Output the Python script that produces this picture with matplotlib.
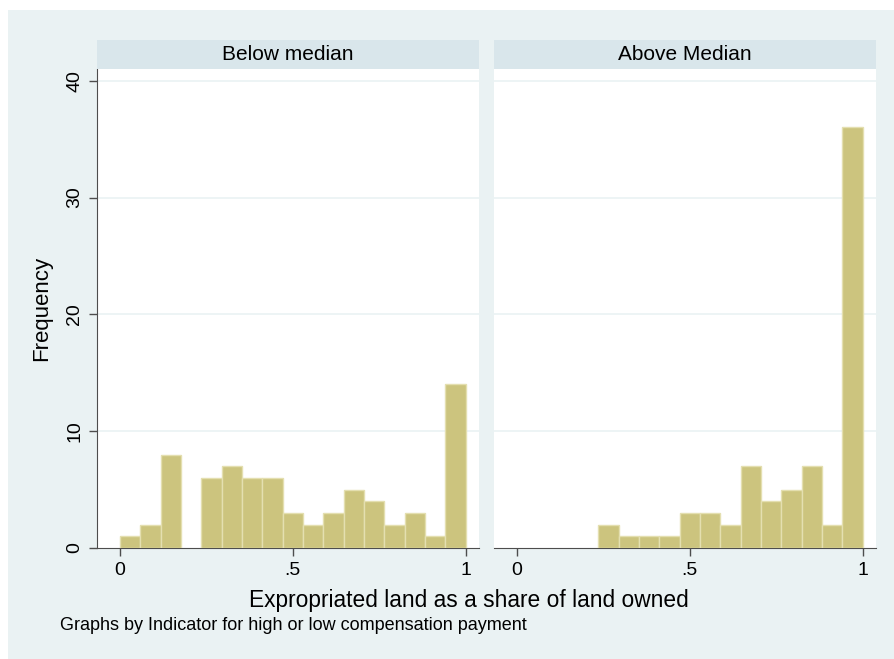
import numpy as np
import matplotlib.pyplot as plt
from matplotlib.patches import Rectangle

# --- DATA ---
n_bins = 17
panel_titles = ["Below median", "Above Median"]
below_counts = [1, 2, 8, 0, 6, 7, 6, 6, 3, 2, 3, 5, 4, 2, 3, 1, 14]
above_counts = [0, 0, 0, 0, 2, 1, 1, 1, 3, 3, 2, 7, 4, 5, 7, 2, 36]
x_ticks = [0, 0.5, 1]
x_ticklabels = ["0", ".5", "1"]
y_ticks = [0, 10, 20, 30, 40]

# --- STYLE ---
plt.rcParams['font.family'] = ['Liberation Sans', 'DejaVu Sans']
bg = '#eaf2f3'
strip_col = '#d9e6eb'
bar_fill = '#ccc47e'
bar_edge = '#e4dfb0'
axis_col = '#4d4d4d'

fig = plt.figure(figsize=(8.94, 6.59), dpi=100)
fig.patch.set_facecolor('white')
W, H = 894, 659

# outer graph region
fig.patches.append(Rectangle((8 / W, 0), 1 - 8 / W, 1 - 10 / H,
                             transform=fig.transFigure, facecolor=bg,
                             edgecolor='none', zorder=-10))

edges = np.linspace(0, 1, n_bins + 1)
width = edges[1] - edges[0]

panel_left = [97, 494]
panel_w = 382
ax_bottom = 1 - 548 / H
ax_height = (548 - 69) / H

for i, (title, counts) in enumerate(zip(panel_titles, [below_counts, above_counts])):
    ax = fig.add_axes([panel_left[i] / W, ax_bottom, panel_w / W, ax_height])
    counts = np.array(counts)
    keep = counts > 0
    ax.bar(edges[:-1][keep], counts[keep], width=width, align='edge',
           color=bar_fill, edgecolor=bar_edge, linewidth=1.0, zorder=3)
    ax.set_xlim(-0.066, 1.038)
    ax.set_ylim(0, 41)
    ax.set_yticks(y_ticks)
    for y in y_ticks[1:]:
        ax.axhline(y, color=bg, lw=1.2, zorder=1)
    ax.set_xticks(x_ticks)
    ax.set_xticklabels(x_ticklabels, fontsize=14)
    ax.tick_params(axis='x', direction='out', length=6, width=1,
                   color=axis_col, pad=4)
    for s in ['top', 'right']:
        ax.spines[s].set_visible(False)
    ax.spines['bottom'].set_color(axis_col)
    ax.spines['left'].set_color(axis_col)
    if i == 0:
        ax.set_yticklabels([str(v) for v in y_ticks], rotation=90,
                           va='center', fontsize=14)
        ax.tick_params(axis='y', direction='out', length=6, width=1,
                       color=axis_col, pad=4)
        ax.set_ylabel('Frequency', fontsize=16, labelpad=10)
    else:
        ax.spines['left'].set_visible(False)
        ax.tick_params(axis='y', left=False, labelleft=False)

    # strip
    sax = fig.add_axes([panel_left[i] / W, 1 - 69 / H, panel_w / W, 29 / H])
    sax.set_facecolor(strip_col)
    sax.set_xticks([])
    sax.set_yticks([])
    for s in sax.spines.values():
        s.set_visible(False)
    sax.text(0.5, 0.5, title, ha='center', va='center', fontsize=15,
             transform=sax.transAxes)

fig.text(469 / W, 1 - 600 / H, 'Expropriated land as a share of land owned',
         ha='center', va='center', fontsize=16.4)
fig.text(60 / W, 1 - 626 / H,
         'Graphs by Indicator for high or low compensation payment',
         ha='left', va='center', fontsize=13)

fig.savefig('out.png', dpi=100)
